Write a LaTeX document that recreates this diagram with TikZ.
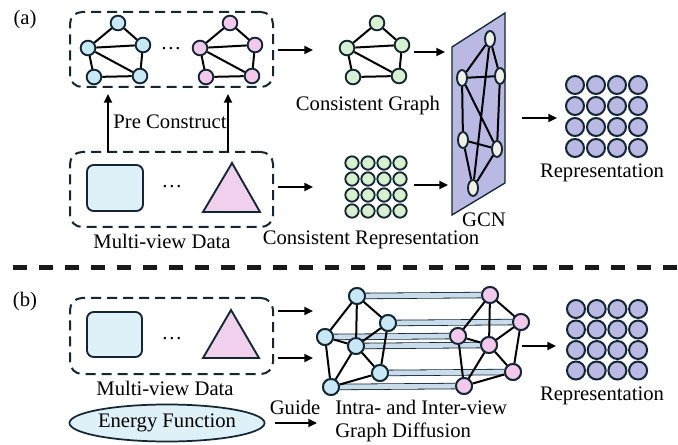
\documentclass[tikz,border=0pt]{standalone}
\usepackage{fontspec}
\setmainfont{Liberation Serif}
\usetikzlibrary{arrows.meta,shapes.geometric}
\definecolor{dark}{RGB}{18,38,52}
\definecolor{nblue}{RGB}{200,232,245}
\definecolor{npink}{RGB}{242,200,235}
\definecolor{ngreen}{RGB}{215,240,208}
\definecolor{lav}{RGB}{185,185,228}
\definecolor{rblue}{RGB}{222,240,248}
\definecolor{tpink}{RGB}{240,208,236}
\definecolor{gnodec}{RGB}{240,240,228}
\definecolor{tubec}{RGB}{200,220,235}
\newcommand\smallgraph[4]{%
 \node[gnode,fill=#4] (#1t) at (#2,#3) {};
 \node[gnode,fill=#4] (#1l) at ({#2-30},{#3+25}) {};
 \node[gnode,fill=#4] (#1r) at ({#2+25},{#3+22}) {};
 \node[gnode,fill=#4] (#1a) at ({#2-24},{#3+54}) {};
 \node[gnode,fill=#4] (#1b) at ({#2+22},{#3+53}) {};
 \draw[gedge] (#1t)--(#1l) (#1t)--(#1r) (#1l)--(#1r) (#1l)--(#1a) (#1l)--(#1b) (#1r)--(#1b) (#1a)--(#1b);
}
\newcommand\diffnodes[4]{%
 \node[dnode,fill=#4] (#1n1) at (#2,#3) {};
 \node[dnode,fill=#4] (#1n2) at ({#2+31},{#3+27}) {};
 \node[dnode,fill=#4] (#1n3) at ({#2-32},{#3+41}) {};
 \node[dnode,fill=#4] (#1n4) at ({#2-1},{#3+50}) {};
 \node[dnode,fill=#4] (#1n5) at ({#2+23},{#3+77}) {};
 \node[dnode,fill=#4] (#1n6) at ({#2-26},{#3+91}) {};
}
\newcommand\diffedges[1]{%
 \draw[gedge] (#1n1)--(#1n2) (#1n1)--(#1n3) (#1n1)--(#1n4) (#1n2)--(#1n4) (#1n2)--(#1n5) (#1n3)--(#1n4) (#1n3)--(#1n6) (#1n4)--(#1n5) (#1n4)--(#1n6) (#1n5)--(#1n6);
}
\begin{document}
\begin{tikzpicture}[x=0.75pt,y=-0.75pt,
  txt/.style={font=\fontsize{15.5}{17.25}\selectfont, inner sep=0pt},
  arr/.style={line width=1.5pt, -{Triangle[length=6.5pt,width=6pt]}},
  gnode/.style={circle, draw=dark, line width=1.4pt, minimum size=11pt, inner sep=0pt},
  dnode/.style={circle, draw=dark, line width=1.4pt, minimum size=12pt, inner sep=0pt},
  gcnnode/.style={ellipse, draw=dark, line width=1.4pt, minimum width=7.5pt, minimum height=12pt, inner sep=0pt, fill=gnodec},
  rnode/.style={circle, draw=dark, line width=1.5pt, minimum size=13.5pt, inner sep=0pt, fill=lav},
  cnode/.style={circle, draw=dark, line width=1.4pt, minimum size=10pt, inner sep=0pt, fill=ngreen},
  gedge/.style={line width=1.5pt, black},
  tube/.style={draw=dark, line width=0.6pt, double=tubec, double distance=3.6pt},
  dbox/.style={draw=dark, line width=1.5pt, dash pattern=on 7.5pt off 4.5pt, rounded corners=9pt, minimum width=152.25pt, inner sep=0pt},
  rrect/.style={draw=dark, line width=1.4pt, fill=rblue, rounded corners=5pt, inner sep=0pt},
]
\useasboundingbox (0,0) rectangle (678,445);

% ---------- (a) ----------
\node[txt] (la) at (25,20) {(a)};
\node[dbox, minimum height=56.25pt] (boxA) at (171.5,49.5) {};
\smallgraph{g1}{118}{23}{nblue}
\node[txt] (dots1) at (171,49) {…};
\smallgraph{g2}{230}{23}{npink}
\smallgraph{g3}{377}{23}{ngreen}
\node[txt] (cg) at (368,106) {Consistent Graph};

\node[dbox, minimum height=56.25pt] (boxB) at (171.5,189.5) {};
\node[rrect, minimum width=42pt, minimum height=34.5pt] (rectA) at (115,188) {};
\node[txt] (dots2) at (172,187) {…};
\draw[line width=1.4pt, draw=dark, fill=tpink] (232,163) -- (260,212) -- (203,212) -- cycle;
\node[txt] (mvd1) at (162,241) {Multi-view Data};

\coordinate (pc1s) at (108,152); \coordinate (pc1e) at (108,94);
\coordinate (pc2s) at (228,152); \coordinate (pc2e) at (228,94);
\draw[arr] (pc1s) -- (pc1e);
\draw[arr] (pc2s) -- (pc2e);
\node[txt] (pc) at (170,122) {Pre Construct};

% consistent representation grid
\foreach \i in {0,...,3}{\foreach \j in {0,...,3}{
  \node[cnode] (c\i\j) at ({352+16*\i},{163+16*\j}) {};
}}
\node[txt] (cr) at (371,240) {Consistent Representation};

% GCN
\draw[draw=dark, line width=1pt, fill=lav] (452,47) -- (505,13) -- (505,183) -- (452,215) -- cycle;
\node[gcnnode] (n1) at (490,39) {};
\node[gcnnode] (n2) at (462,78) {};
\node[gcnnode] (n3) at (500,76) {};
\node[gcnnode] (n4) at (463,140) {};
\node[gcnnode] (n5) at (497,149) {};
\node[gcnnode] (n6) at (473,188) {};
\draw[gedge] (n1)--(n2) (n1)--(n3) (n2)--(n3) (n2)--(n4) (n2)--(n5) (n3)--(n5) (n4)--(n5) (n4)--(n6) (n5)--(n6) (n1)--(n6);
\node[txt] (gcn) at (484,220) {GCN};

% representation (a)
\foreach \i in {0,...,3}{\foreach \j in {0,...,3}{
  \node[rnode] (ra\i\j) at ({575+21*\i},{85+21*\j}) {};
}}
\node[txt] (rep1) at (602,173) {Representation};

% arrows (a)
\coordinate (a1s) at (278,50);  \coordinate (a1e) at (313,50);
\coordinate (a2s) at (414,52);  \coordinate (a2e) at (445,52);
\coordinate (a3s) at (278,187); \coordinate (a3e) at (313,187);
\coordinate (a4s) at (414,185); \coordinate (a4e) at (448,185);
\coordinate (a5s) at (522,118); \coordinate (a5e) at (557,118);
\draw[arr] (a1s) -- (a1e);
\draw[arr] (a2s) -- (a2e);
\draw[arr] (a3s) -- (a3e);
\draw[arr] (a4s) -- (a4e);
\draw[arr] (a5s) -- (a5e);

% separator
\coordinate (sepL) at (13,268); \coordinate (sepR) at (678,268);
\draw[line width=3.75pt, black!90, dash pattern=on 10.5pt off 9pt] (sepL) -- (sepR);

% ---------- (b) ----------
\node[txt] (lb) at (25,302) {(b)};
\node[dbox, minimum height=57pt] (boxC) at (171.5,336) {};
\node[rrect, minimum width=41.25pt, minimum height=33.75pt] (rectB) at (114.5,334.5) {};
\node[txt] (dots3) at (172,339) {…};
\draw[line width=1.4pt, draw=dark, fill=tpink] (231,310) -- (259,358) -- (203,358) -- cycle;
\node[txt] (mvd2) at (165,388) {Multi-view Data};
\node[ellipse, draw=dark, line width=1.3pt, fill=rblue, minimum width=132.75pt, minimum height=27.75pt, inner sep=0pt, font=\fontsize{15.5}{17.25}\selectfont] (ef) at (167,423) {Energy Function};
\node[txt] (guide) at (295,407) {Guide};

\diffnodes{b}{357}{296}{nblue}
\diffnodes{p}{490}{295}{npink}
\foreach \k in {1,...,6}{\draw[tube] (bn\k) -- (pn\k);}
\diffedges{b}
\diffedges{p}
\diffnodes{b}{357}{296}{nblue}
\diffnodes{p}{490}{295}{npink}

\node[txt, align=left, anchor=west] (gd) at (335,421) {Intra- and Inter-view\\Graph Diffusion};

% representation (b)
\foreach \i in {0,...,3}{\foreach \j in {0,...,3}{
  \node[rnode] (rb\i\j) at ({576+20.7*\i},{309+20.5*\j}) {};
}}
\node[txt] (rep2) at (602,396) {Representation};

% arrows (b)
\coordinate (b1s) at (278,311); \coordinate (b1e) at (313,311);
\coordinate (b2s) at (278,358); \coordinate (b2e) at (313,358);
\coordinate (b3s) at (275,423); \coordinate (b3e) at (317,423);
\coordinate (b4s) at (522,346); \coordinate (b4e) at (556,346);
\draw[arr] (b1s) -- (b1e);
\draw[arr] (b2s) -- (b2e);
\draw[arr] (b3s) -- (b3e);
\draw[arr] (b4s) -- (b4e);
\end{tikzpicture}
\end{document}
